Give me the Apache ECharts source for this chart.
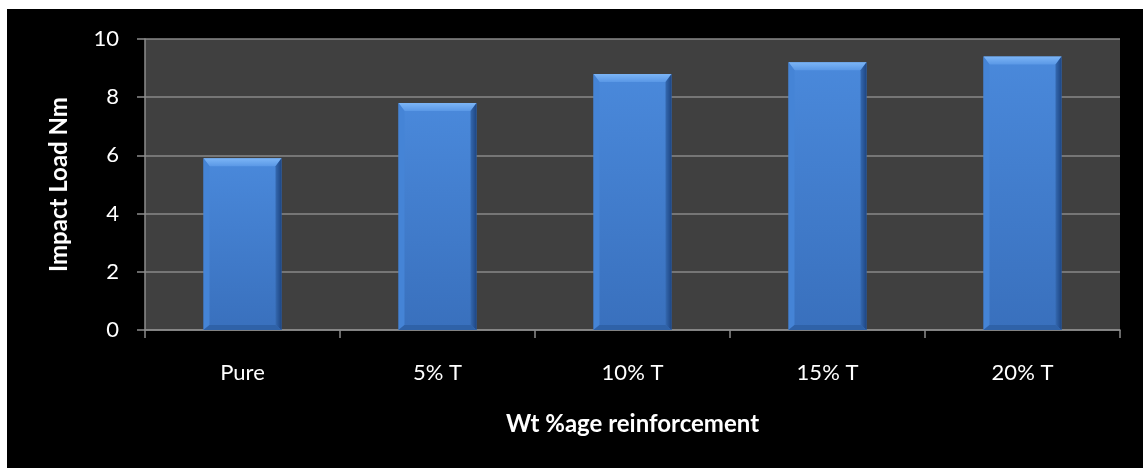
<!DOCTYPE html>
<html>
<head>
<meta charset="utf-8">
<script src="https://cdn.jsdelivr.net/npm/echarts@6/dist/echarts.min.js"></script>
<style>
  html, body { margin: 0; padding: 0; background: #ffffff; }
  #chart { position: absolute; left: 7px; top: 9px; width: 1136px; height: 459px; background: #000000; }
</style>
</head>
<body>
<div id="chart"></div>
<script>
// Impact load for each reinforcement level
const categories = ['Pure', '5% T', '10% T', '15% T', '20% T'];
const impactLoad = [5.9, 7.8, 8.8, 9.2, 9.4];
const yTicks = { min: 0, max: 10, interval: 2 };

const FONT = 'Lato, "Open Sans", sans-serif';
const chart = echarts.init(document.getElementById('chart'));

// Bevelled column: a gradient face with light top edge and shaded sides
function bevelBar(params, api) {
  const idx = api.value(0);
  const val = api.value(1);
  const top = api.coord([idx, val]);
  const base = api.coord([idx, 0]);
  const bw = api.size([1, 0])[0] * 0.4;
  const x0 = top[0] - bw / 2, x1 = top[0] + bw / 2;
  const y0 = top[1], y1 = base[1];
  const bt = 8, bs = 6, bb = 5;
  const face = new echarts.graphic.LinearGradient(0, 0, 0, 1, [
    { offset: 0, color: '#4a89db' },
    { offset: 1, color: '#3970bd' }
  ]);
  return {
    type: 'group',
    children: [
      { type: 'rect', shape: { x: x0, y: y0, width: bw, height: y1 - y0 }, style: { fill: face } },
      { type: 'polygon', shape: { points: [[x0, y0], [x1, y0], [x1 - bs, y0 + bt], [x0 + bs, y0 + bt]] },
        style: { fill: new echarts.graphic.LinearGradient(0, 0, 0, 1, [
          { offset: 0, color: '#7cb5f6' }, { offset: 1, color: '#5a98e6' }]) } },
      { type: 'polygon', shape: { points: [[x0, y0], [x0 + bs, y0 + bt], [x0 + bs, y1 - bb], [x0, y1]] },
        style: { fill: '#4584d6' } },
      { type: 'polygon', shape: { points: [[x1, y0], [x1 - bs, y0 + bt], [x1 - bs, y1 - bb], [x1, y1]] },
        style: { fill: new echarts.graphic.LinearGradient(0, 0, 1, 0, [
          { offset: 0, color: '#3569b0' }, { offset: 1, color: '#1d4582' }]) } },
      { type: 'polygon', shape: { points: [[x0, y1], [x0 + bs, y1 - bb], [x1 - bs, y1 - bb], [x1, y1]] },
        style: { fill: '#2f62a8' } }
    ]
  };
}

chart.setOption({
  backgroundColor: '#000000',
  animation: false,
  grid: {
    left: 138, right: 23, top: 30, bottom: 138,
    show: true, backgroundColor: '#404040', borderWidth: 0
  },
  xAxis: {
    type: 'category',
    data: categories,
    name: 'Wt %age reinforcement',
    nameLocation: 'middle',
    nameGap: 82,
    nameTextStyle: { color: '#ffffff', fontFamily: FONT, fontWeight: 'bold', fontSize: 24 },
    axisLine: { lineStyle: { color: '#8c8c8c', width: 1.5 } },
    axisTick: { show: true, alignWithLabel: false, length: 8, lineStyle: { color: '#8c8c8c', width: 1.5 } },
    axisLabel: { color: '#ffffff', fontFamily: FONT, fontSize: 22, margin: 32 },
    splitLine: { show: false }
  },
  yAxis: {
    type: 'value',
    min: yTicks.min, max: yTicks.max, interval: yTicks.interval,
    name: 'Impact Load Nm',
    nameLocation: 'middle',
    nameGap: 74,
    nameRotate: 90,
    nameTextStyle: { color: '#ffffff', fontFamily: FONT, fontWeight: 'bold', fontSize: 24 },
    axisLine: { show: true, lineStyle: { color: '#8c8c8c', width: 1.5 } },
    axisTick: { show: true, length: 8, lineStyle: { color: '#8c8c8c', width: 1.5 } },
    axisLabel: { color: '#ffffff', fontFamily: FONT, fontSize: 22, margin: 26 },
    splitLine: { show: true, lineStyle: { color: '#888888', width: 1.5 } }
  },
  series: [{
    type: 'custom',
    renderItem: bevelBar,
    encode: { x: 0, y: 1 },
    data: impactLoad.map((v, i) => [i, v])
  }]
});
</script>
</body>
</html>
